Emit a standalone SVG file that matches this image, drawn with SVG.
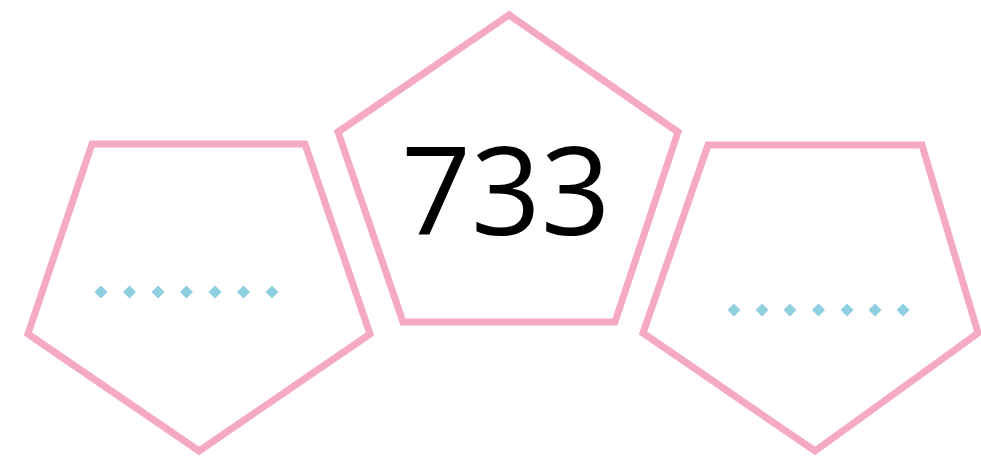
<svg xmlns="http://www.w3.org/2000/svg" width="981" height="475" viewBox="0 0 981 475">
<defs>
<style>
.pent{fill:#fff;stroke:#F6A9C5;stroke-width:7;stroke-linejoin:miter}
.dot{fill:#8ECFE0}
.num{font-family:"Open Sans","Noto Sans",sans-serif;font-size:122px;fill:#000}
</style>
<path id="d" class="dot" d="M0,-6.5 L6.5,0 L0,6.5 L-6.5,0 Z"/>
</defs>
<rect width="981" height="475" fill="#fff"/>
<g id="left">
<polygon class="pent" points="92,144 305,144 370,334 199,451 28,334"/>
<g>
<use href="#d" x="101" y="292"/><use href="#d" x="129.5" y="292"/><use href="#d" x="158" y="292"/><use href="#d" x="186.5" y="292"/><use href="#d" x="215" y="292"/><use href="#d" x="243.5" y="292"/><use href="#d" x="272" y="292"/>
</g>
</g>
<g id="center">
<polygon class="pent" points="509,15 678,132 615,322 403,322 338,132"/>
<text class="num" x="506" y="235" text-anchor="middle">733</text>
</g>
<g id="right">
<polygon class="pent" points="708,145 922,145 978,333 815,451 643,333"/>
<g>
<use href="#d" x="734" y="310"/><use href="#d" x="762" y="310"/><use href="#d" x="790" y="310"/><use href="#d" x="818.5" y="310"/><use href="#d" x="847" y="310"/><use href="#d" x="875" y="310"/><use href="#d" x="903" y="310"/>
</g>
</g>
<g id="connectors"/>
</svg>
